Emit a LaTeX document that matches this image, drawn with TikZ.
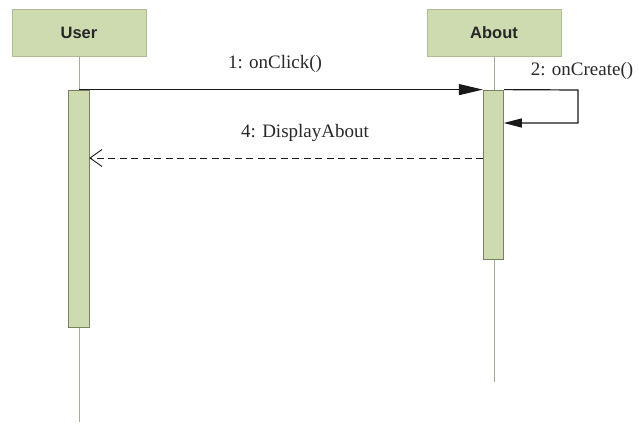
\documentclass[tikz,border=0pt]{standalone}
\usepackage{fontspec}
\setmainfont{Liberation Serif}
\newfontfamily\headfont{Liberation Sans}
\usetikzlibrary{arrows.meta}
\definecolor{boxfill}{RGB}{206,219,177}
\definecolor{boxline}{RGB}{175,188,148}
\definecolor{actline}{RGB}{120,128,100}
\definecolor{lifecol}{RGB}{165,170,145}
\definecolor{txt}{RGB}{40,40,40}
\begin{document}
\begin{tikzpicture}[x=1pt,y=-1pt,
  head/.style={draw=boxline, fill=boxfill, line width=0.8pt, minimum width=134pt, minimum height=47pt, inner sep=0pt, font=\headfont\bfseries\fontsize{16.5}{18}\selectfont, text=black!85},
  act/.style={draw=actline, fill=boxfill, line width=0.8pt, minimum width=20.5pt, inner sep=0pt},
  life/.style={draw=lifecol, line width=1pt},
  msg/.style={draw=black!90, line width=1.2pt},
  lbl/.style={font=\fontsize{19}{21}\selectfont, text=txt, inner sep=0pt}
]
\useasboundingbox (0,0) rectangle (639,423);
\node[head] (user) at (79,32.5) {User};
\node[head] (about) at (494,32.5) {About};
\coordinate (userend) at (79,422);
\coordinate (aboutend) at (494,382);
\draw[life] (user.south) -- (userend);
\draw[life] (about.south) -- (aboutend);
\node[act, minimum height=237pt] (ua) at (79,208.5) {};
\node[act, minimum height=169pt] (aa) at (493.5,174.5) {};
% message 1
\draw[msg, -{Triangle[length=24pt,width=11pt]}] (ua.north) -- (aa.north west);
\node[lbl] (m1) at (275,64) {1: onClick()};
% self message 2
\coordinate (selfc1) at (578,90);
\coordinate (selfc2) at (578,123);
\coordinate (selfend) at (503.75,123);
\draw[msg, -{Triangle[length=18pt,width=9pt]}] (aa.north east) -- (selfc1) -- (selfc2) -- (selfend);
\node[lbl] (m2) at (582,71) {2: onCreate()};
% message 4
\coordinate (m4s) at (483.25,158);
\coordinate (m4e) at (89.25,158);
\draw[msg, line width=0.9pt, dash pattern=on 7pt off 4.5pt, -{Straight Barb[length=12pt,width=17pt,line width=0.9pt]}] (m4s) -- (m4e);
\node[lbl] (m4) at (305,133) {4: DisplayAbout};
\end{tikzpicture}
\end{document}
